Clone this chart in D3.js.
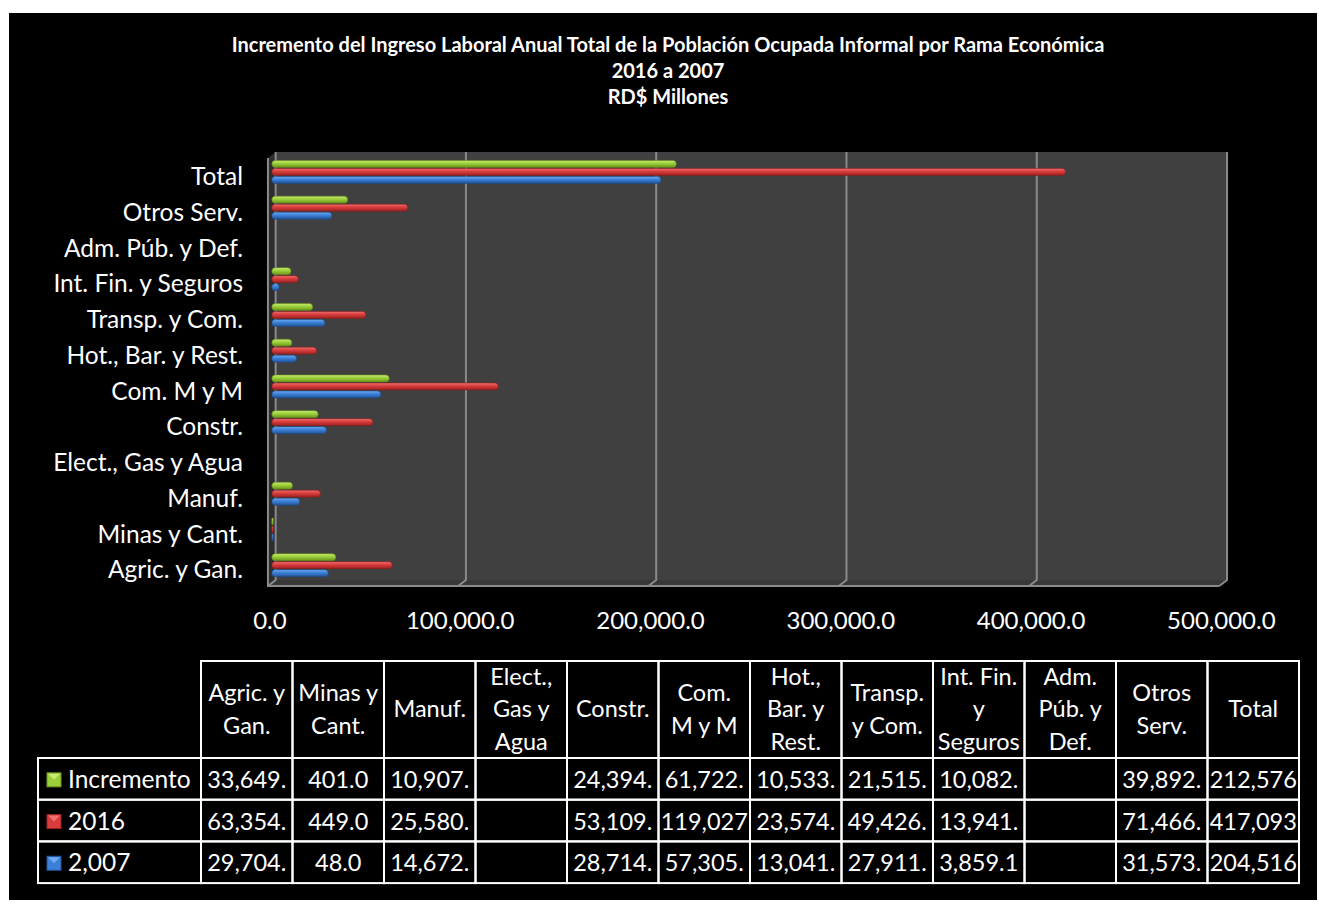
<!DOCTYPE html>
<html>
<head>
<meta charset="utf-8">
<script src="https://cdn.jsdelivr.net/npm/d3@7"></script>
<style>
  body { margin: 0; background: #fff; }
  text { font-family: Lato, "Open Sans", sans-serif; fill: #fff; }
</style>
</head>
<body>
<svg id="chart" width="1319" height="905"></svg>
<script>
// Categories (bottom to top as in the chart)
const categories = ["Agric. y Gan.", "Minas y Cant.", "Manuf.", "Elect., Gas y Agua", "Constr.", "Com. M y M",
  "Hot., Bar. y Rest.", "Transp. y Com.", "Int. Fin. y Seguros", "Adm. Púb. y Def.", "Otros Serv.", "Total"]
// Table header lines (same categories, wrapped as in the table)
const headerLines = [["Agric. y", "Gan."], ["Minas y", "Cant."], ["Manuf."], ["Elect.,", "Gas y", "Agua"], ["Constr."],
  ["Com.", "M y M"], ["Hot.,", "Bar. y", "Rest."], ["Transp.", "y Com."], ["Int. Fin.", "y", "Seguros"],
  ["Adm.", "Púb. y", "Def."], ["Otros", "Serv."], ["Total"]]
const seriesNames = ["Incremento", "2016", "2,007"]
const incremento = [33649.0, 401.0, 10907.0, null, 24394.0, 61722.0, 10533.0, 21515.0, 10082.0, null, 39892.0, 212576.0]
const v2016 = [63354.0, 449.0, 25580.0, null, 53109.0, 119027.0, 23574.0, 49426.0, 13941.0, null, 71466.0, 417093.0]
const v2007 = [29704.0, 48.0, 14672.0, null, 28714.0, 57305.0, 13041.0, 27911.0, 3859.1, null, 31573.0, 204516.0]
const xTicks = [0, 100000, 200000, 300000, 400000, 500000]
const titleLines = ["Incremento del Ingreso Laboral Anual Total de la Población Ocupada Informal por Rama Económica",
  "2016 a 2007", "RD$ Millones"]

const seriesValues = [incremento, v2016, v2007]
const colors = [
  {top: "#c6ec72", mid: "#9bcf3a", bot: "#6c961d", line: "#5f8418"},
  {top: "#f07070", mid: "#da3c3c", bot: "#9c2222", line: "#8a1d1d"},
  {top: "#6eaaf0", mid: "#3b80d8", bot: "#22549a", line: "#1e4a88"}
]

const svg = d3.select("#chart")
const defs = svg.append("defs")

// background
svg.append("rect").attr("x", 9).attr("y", 13).attr("width", 1308).attr("height", 887).attr("fill", "#000")

// title
svg.selectAll(".title").data(titleLines).join("text")
  .attr("class", "title")
  .attr("x", 668).attr("y", (d, i) => 47 + i * 26)
  .attr("text-anchor", "middle").attr("dominant-baseline", "middle")
  .attr("font-size", 20).attr("font-weight", "bold")
  .text(d => d)

// Scales: 3D depth -> front, middle (bars), back planes
const plotTop = 152, plotBottom = 580, depthX = 7.7, depthY = 6
const xMid = d3.scaleLinear().domain([0, 500000]).range([271.8, 1223.2])
const xBack = v => xMid(v) + depthX / 2
const xFront = v => xMid(v) - depthX / 2

const cats = categories.slice().reverse()
const y0 = d3.scaleBand().domain(cats).range([154, 583])
const y1 = d3.scaleBand().domain(seriesNames)
  .range([y0.bandwidth() / 2 - 12, y0.bandwidth() / 2 + 12])
  .paddingInner(0.125).paddingOuter(0.0625)

// walls
const plot = svg.append("g").attr("class", "plot")
plot.append("rect").attr("x", xBack(0)).attr("y", plotTop)
  .attr("width", xBack(500000) - xBack(0)).attr("height", plotBottom - plotTop).attr("fill", "#404040")
plot.append("polygon")
  .attr("points", [[xFront(0), plotBottom + depthY], [xBack(0), plotBottom], [xBack(500000), plotBottom], [xFront(500000), plotBottom + depthY]].join(" "))
  .attr("fill", "#383838")
plot.append("polygon")
  .attr("points", [[xFront(0), plotTop + depthY], [xBack(0), plotTop], [xBack(0), plotBottom], [xFront(0), plotBottom + depthY]].join(" "))
  .attr("fill", "#2e2e2e")

// gridlines (back wall then across the floor)
plot.selectAll(".grid").data(xTicks).join("path")
  .attr("class", "grid")
  .attr("d", d => `M${xBack(d)},${plotTop}V${plotBottom}L${xFront(d)},${plotBottom + depthY}`)
  .attr("fill", "none").attr("stroke", "#8a8a8a").attr("stroke-width", 2)
plot.append("path")
  .attr("d", `M${xFront(0)},${plotTop + depthY}V${plotBottom + depthY}H${xFront(500000)}`)
  .attr("fill", "none").attr("stroke", "#8a8a8a").attr("stroke-width", 2)

// bar gradients
colors.forEach((c, i) => {
  const g = defs.append("linearGradient").attr("id", "grad" + i)
    .attr("x1", 0).attr("y1", 0).attr("x2", 0).attr("y2", 1)
  g.append("stop").attr("offset", "0%").attr("stop-color", c.top)
  g.append("stop").attr("offset", "45%").attr("stop-color", c.mid)
  g.append("stop").attr("offset", "100%").attr("stop-color", c.bot)
})

// bars
const barData = []
seriesValues.forEach((vals, si) => {
  vals.forEach((v, ci) => {
    if (v != null) barData.push({s: si, cat: categories[ci], value: v})
  })
})
plot.selectAll(".bar").data(barData).join("rect")
  .attr("class", "bar")
  .attr("x", xMid(0))
  .attr("y", d => y0(d.cat) + y1(seriesNames[d.s]))
  .attr("width", d => Math.max(1.5, xMid(d.value) - xMid(0)))
  .attr("height", y1.bandwidth())
  .attr("rx", d => Math.min(3.5, Math.max(0.75, (xMid(d.value) - xMid(0)) / 2)))
  .attr("fill", d => `url(#grad${d.s})`)
  .attr("stroke", d => colors[d.s].line).attr("stroke-width", 0.6)

// category labels
svg.selectAll(".ylab").data(cats).join("text")
  .attr("class", "ylab")
  .attr("x", 243).attr("y", d => y0(d) + y0.bandwidth() / 2 + 7)
  .attr("text-anchor", "end").attr("dominant-baseline", "middle")
  .attr("font-size", 24.5)
  .text(d => d)

// x tick labels
const fmt = d3.format(",.1f")
svg.selectAll(".xlab").data(xTicks).join("text")
  .attr("class", "xlab")
  .attr("x", d => xFront(d) + 2).attr("y", 623)
  .attr("text-anchor", "middle").attr("dominant-baseline", "middle")
  .attr("font-size", 24)
  .text(d => fmt(d))

// data table
const tx0 = 201, colW = 91.5, hy0 = 661, hy1 = 758, rowH = 41.7, lx0 = 38
const table = svg.append("g").attr("class", "table")
headerLines.forEach((lines, ci) => {
  const cx = tx0 + ci * colW
  table.append("rect").attr("x", cx).attr("y", hy0).attr("width", colW).attr("height", hy1 - hy0)
    .attr("fill", "none").attr("stroke", "#fff").attr("stroke-width", 2)
  table.selectAll(null).data(lines).join("text")
    .attr("x", cx + colW / 2)
    .attr("y", (d, i) => (hy0 + hy1) / 2 + 2 + (i - (lines.length - 1) / 2) * 32.5)
    .attr("text-anchor", "middle").attr("dominant-baseline", "middle")
    .attr("font-size", 23.5)
    .text(d => d)
})

seriesValues.forEach((vals, si) => {
  const ry = hy1 + si * rowH
  table.append("rect").attr("x", lx0).attr("y", ry).attr("width", tx0 - lx0).attr("height", rowH)
    .attr("fill", "none").attr("stroke", "#fff").attr("stroke-width", 2)
  // legend key
  const key = table.append("g").attr("transform", `translate(${lx0 + 9},${ry + rowH / 2 - 6})`)
  key.append("rect").attr("width", 14).attr("height", 14).attr("fill", colors[si].mid)
    .attr("stroke", colors[si].bot).attr("stroke-width", 1)
  key.append("polygon").attr("points", "1,1 13,1 7,7").attr("fill", colors[si].top)
  table.append("text").attr("x", lx0 + 30).attr("y", ry + rowH / 2 + 3)
    .attr("dominant-baseline", "middle").attr("font-size", 24.5)
    .text(seriesNames[si])

  vals.forEach((v, ci) => {
    const cx = tx0 + ci * colW
    table.append("rect").attr("x", cx).attr("y", ry).attr("width", colW).attr("height", rowH)
      .attr("fill", "none").attr("stroke", "#fff").attr("stroke-width", 2)
    if (v == null) return
    const t = table.append("text").attr("x", cx + colW / 2).attr("y", ry + rowH / 2 + 3)
      .attr("text-anchor", "middle").attr("dominant-baseline", "middle").attr("font-size", 23.5)
    // cut characters that do not fit in the cell, like the spreadsheet does
    let s = fmt(v)
    t.text(s)
    while (s.length > 1 && t.node().getComputedTextLength() > colW - 3) {
      s = s.slice(0, -1)
      t.text(s)
    }
  })
})
</script>
</body>
</html>
